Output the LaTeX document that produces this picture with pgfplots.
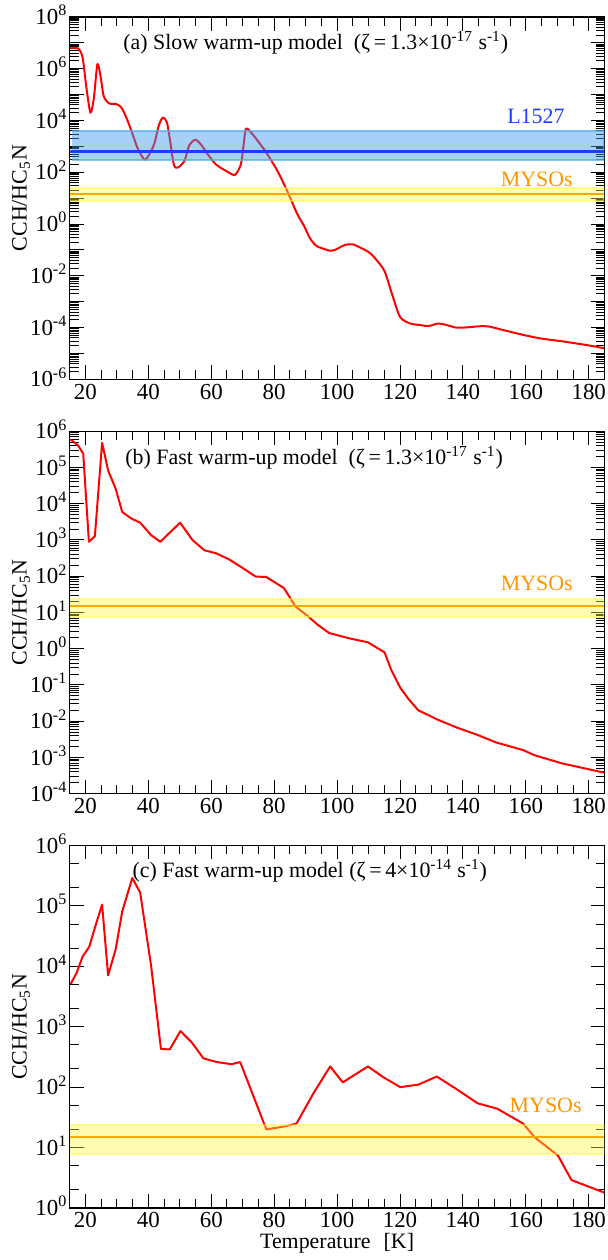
\documentclass[border=0pt]{standalone}
\usepackage{pgfplots}
\pgfplotsset{compat=1.18}
\usepgfplotslibrary{groupplots}
\usepackage{fontspec}
\setmainfont{Liberation Serif}

\definecolor{curvered}{RGB}{255,0,0}
\definecolor{bandblue}{RGB}{60,150,240}
\definecolor{bandedge}{RGB}{80,170,240}
\definecolor{lineblue}{RGB}{30,60,255}
\definecolor{bandyellow}{RGB}{255,250,60}
\definecolor{lineorange}{RGB}{245,170,0}
\definecolor{textorange}{RGB}{255,150,0}
\definecolor{textblue}{RGB}{30,60,255}

\newcommand{\ticksize}{\fontsize{11.5}{13}\selectfont}
\newcommand{\labsize}{\fontsize{11}{13}\selectfont}
\newcommand{\ex}[1]{10\textsuperscript{#1}}

\tikzset{
  ratiocurve/.style={curvered, line width=1pt, line join=round},
  mysofill/.style={draw=bandyellow, fill=bandyellow, fill opacity=0.4, draw opacity=0.5, line width=1pt},
  mysomid/.style={lineorange, line width=0.9pt},
}

\begin{document}
\begin{tikzpicture}
\begin{groupplot}[
  group style={group size=1 by 3, vertical sep=26pt},
  scale only axis, width=268.5pt, height=182pt,
  xmin=15, xmax=185, ymode=log,
  xtick={20,40,...,180}, minor x tick num=3,
  tick align=inside,
  major tick length=7pt, minor tick length=4.5pt,
  every tick/.style={black, line width=0.5pt},
  axis line style={line width=0.6pt},
  /pgf/number format/assume math mode=true,
  xticklabel style={font=\ticksize, inner sep=0pt, yshift=-2pt},
  yticklabel style={font=\ticksize, inner sep=0pt, anchor=base east, xshift=-1pt, yshift=-3.8pt},
  ylabel={CCH/HC\textsubscript{5}N},
  ylabel style={font=\labsize, at={(axis description cs:-0.091,0.5)}, anchor=center},
]

% (a) slow warm-up
\nextgroupplot[
  ymin=1e-6, ymax=1e8,
  ytick={1e-6,1e-5,1e-4,1e-3,1e-2,1e-1,1,10,100,1e3,1e4,1e5,1e6,1e7,1e8},
  yticklabels={\ex{-6},,\ex{-4},,\ex{-2},,\ex{0},,\ex{2},,\ex{4},,\ex{6},,\ex{8}},
]
\addplot[ratiocurve, smooth, tension=0.45] coordinates {
(15.2,6.2e6) (17.7,6.0e6) (19.1,2.7e6) (20.3,1.9e5) (21.6,2.0e4) (22.7,7.8e4)
(23.8,1.5e6) (24.8,5.2e5) (25.8,8.9e4) (27.5,4.6e4) (29.8,4.3e4) (31.4,3.2e4)
(33.0,1.3e4) (34.6,4.0e3) (36.7,7.9e2) (38.8,3.1e2) (40.4,5.1e2) (42.0,1.4e3)
(43.3,6.3e3) (44.6,1.3e4) (45.9,8.5e3) (46.9,1.7e3) (48.1,2.0e2) (49.3,1.5e2)
(51.5,2.8e2) (53.0,1.1e3) (54.9,1.8e3) (56.7,1.2e3) (58.8,5.1e2) (61.5,2.0e2)
(64.6,1.15e2) (67.5,79) (69.4,2.0e2) (70.2,9.1e2) (71.0,4.7e3) (72.6,3.5e3)
(75.2,1.4e3) (77.8,5.1e2) (81.0,1.15e2) (84.1,19.5) (87.3,2.5) (89.4,0.89)
(91.5,0.27) (93.6,0.14) (97.9,0.093) (100.0,0.11) (102.1,0.15) (104.9,0.166)
(110.0,0.083) (112.6,0.040) (115.1,0.015) (117.4,2.1e-3) (120.0,2.6e-4)
(123.2,1.45e-4) (126.4,1.26e-4) (129.0,1.15e-4) (132.2,1.45e-4) (134.8,1.26e-4)
(137.9,1.0e-4) (141.1,1.02e-4) (144.8,1.12e-4) (148.0,1.12e-4) (153.3,7.8e-5)
(159.6,5.1e-5) (164.8,3.8e-5) (171.2,3.0e-5) (179.6,2.1e-5) (184.9,1.6e-5)
};
% L1527 observed ratio and range
\addplot[draw=bandedge, fill=bandblue, fill opacity=0.45, draw opacity=0.7, line width=1pt]
  coordinates {(15.6,300) (185,300) (185,3800) (15.6,3800)};
\addplot[lineblue, line width=1.1pt] coordinates {(15,630) (185,630)};
% MYSOs observed ratio and range
\addplot[mysofill] coordinates {(15,7.7) (185,7.7) (185,24) (15,24)};
\addplot[mysomid] coordinates {(15,15) (185,15)};
\node[textblue, font=\labsize] at (axis cs:163.2,1.5e4) {L1527};
\node[textorange, font=\labsize] at (axis cs:163.5,55) {MYSOs};
\node[font=\labsize] at (axis description cs:0.46,0.928)
  {(a) Slow warm-up model\hspace{0.5em}(ζ\,=\,1.3×10\textsuperscript{-17} s\textsuperscript{-1})};

% (b) fast warm-up
\nextgroupplot[
  ymin=1e-4, ymax=1e6,
  ytick={1e-4,1e-3,1e-2,1e-1,1,10,100,1e3,1e4,1e5,1e6},
  yticklabels={\ex{-4},\ex{-3},\ex{-2},\ex{-1},\ex{0},\ex{1},\ex{2},\ex{3},\ex{4},\ex{5},\ex{6}},
]
\addplot[ratiocurve] coordinates {
(15.3,5.9e5) (17.7,4.0e5) (19.3,2.4e5) (21.1,8.9e2) (23.0,1.26e3) (25.3,4.8e5)
(27.2,8.3e4) (29.6,2.6e4) (31.7,5.9e3) (34.6,3.9e3) (37.4,3.0e3) (40.9,1.35e3)
(43.8,8.9e2) (50.1,3.0e3) (54.1,9.8e2) (57.8,5.2e2) (61.5,4.3e2) (65.7,2.9e2)
(69.9,1.7e2) (74.1,98) (77.5,95) (83.1,47) (86.8,14.5) (90.8,7.8) (93.8,4.6)
(97.5,2.7) (103.7,1.95) (109.8,1.5) (115.1,0.79) (117.2,0.26) (120.1,0.083)
(122.8,0.040) (125.8,0.020) (132.0,0.011) (138.2,6.6e-3) (144.9,4.1e-3)
(150.5,2.6e-3) (159.1,1.6e-3) (162.8,1.15e-3) (171.4,6.9e-4) (184.9,3.8e-4)
};
\addplot[mysofill] coordinates {(15,7.7) (185,7.7) (185,24) (15,24)};
\addplot[mysomid] coordinates {(15,15) (185,15)};
\node[textorange, font=\labsize] at (axis cs:163.5,63) {MYSOs};
\node[font=\labsize] at (axis description cs:0.457,0.926)
  {(b) Fast warm-up model\hspace{0.5em}(ζ\,=\,1.3×10\textsuperscript{-17} s\textsuperscript{-1})};

% (c) fast warm-up, high ionisation rate
\nextgroupplot[
  ymin=1, ymax=1e6,
  ytick={1,10,100,1e3,1e4,1e5,1e6},
  yticklabels={\ex{0},\ex{1},\ex{2},\ex{3},\ex{4},\ex{5},\ex{6}},
  minor ytick={2,5,20,50,200,500,2e3,5e3,2e4,5e4,2e5,5e5},
  xlabel={Temperature\hspace{0.6em}[K]},
  xlabel style={font=\labsize, at={(axis description cs:0.5,0)}, anchor=center, yshift=-17.8pt},
]
\addplot[ratiocurve] coordinates {
(15.3,5.1e3) (17.2,7.8e3) (19.1,1.45e4) (21.2,2.1e4) (23.3,4.9e4) (25.3,1.05e5)
(27.2,7.1e3) (29.6,1.9e4) (31.7,8.1e4) (34.9,2.9e5) (37.4,1.66e5) (40.9,1.0e4)
(44.0,4.3e2) (46.8,4.2e2) (50.2,8.5e2) (53.8,5.5e2) (57.5,3.0e2) (61.8,2.6e2)
(66.4,2.4e2) (69.2,2.6e2) (77.5,20) (83.4,22.4) (87.1,25) (92.6,81) (97.8,2.2e2)
(101.8,1.2e2) (109.8,2.2e2) (114.8,1.45e2) (120.1,1.0e2) (125.8,1.1e2)
(131.7,1.5e2) (138.2,91) (144.7,54) (150.9,44) (159.1,25) (162.8,14.8)
(170.2,7.4) (174.5,2.9) (184.9,1.8)
};
\addplot[mysofill] coordinates {(15,7.7) (185,7.7) (185,24) (15,24)};
\addplot[mysomid] coordinates {(15,15) (185,15)};
\node[textorange, font=\labsize] at (axis cs:166.3,50) {MYSOs};
\node[font=\labsize] at (axis description cs:0.449,0.929)
  {(c) Fast warm-up model (ζ\,=\,4×10\textsuperscript{-14} s\textsuperscript{-1})};
\end{groupplot}
% page margins around the three panels
\path (group c1r3.south west) ++(-35pt,-24.5pt);
\path (group c1r1.north east) ++(1.5pt,8.5pt);
\end{tikzpicture}
\end{document}
